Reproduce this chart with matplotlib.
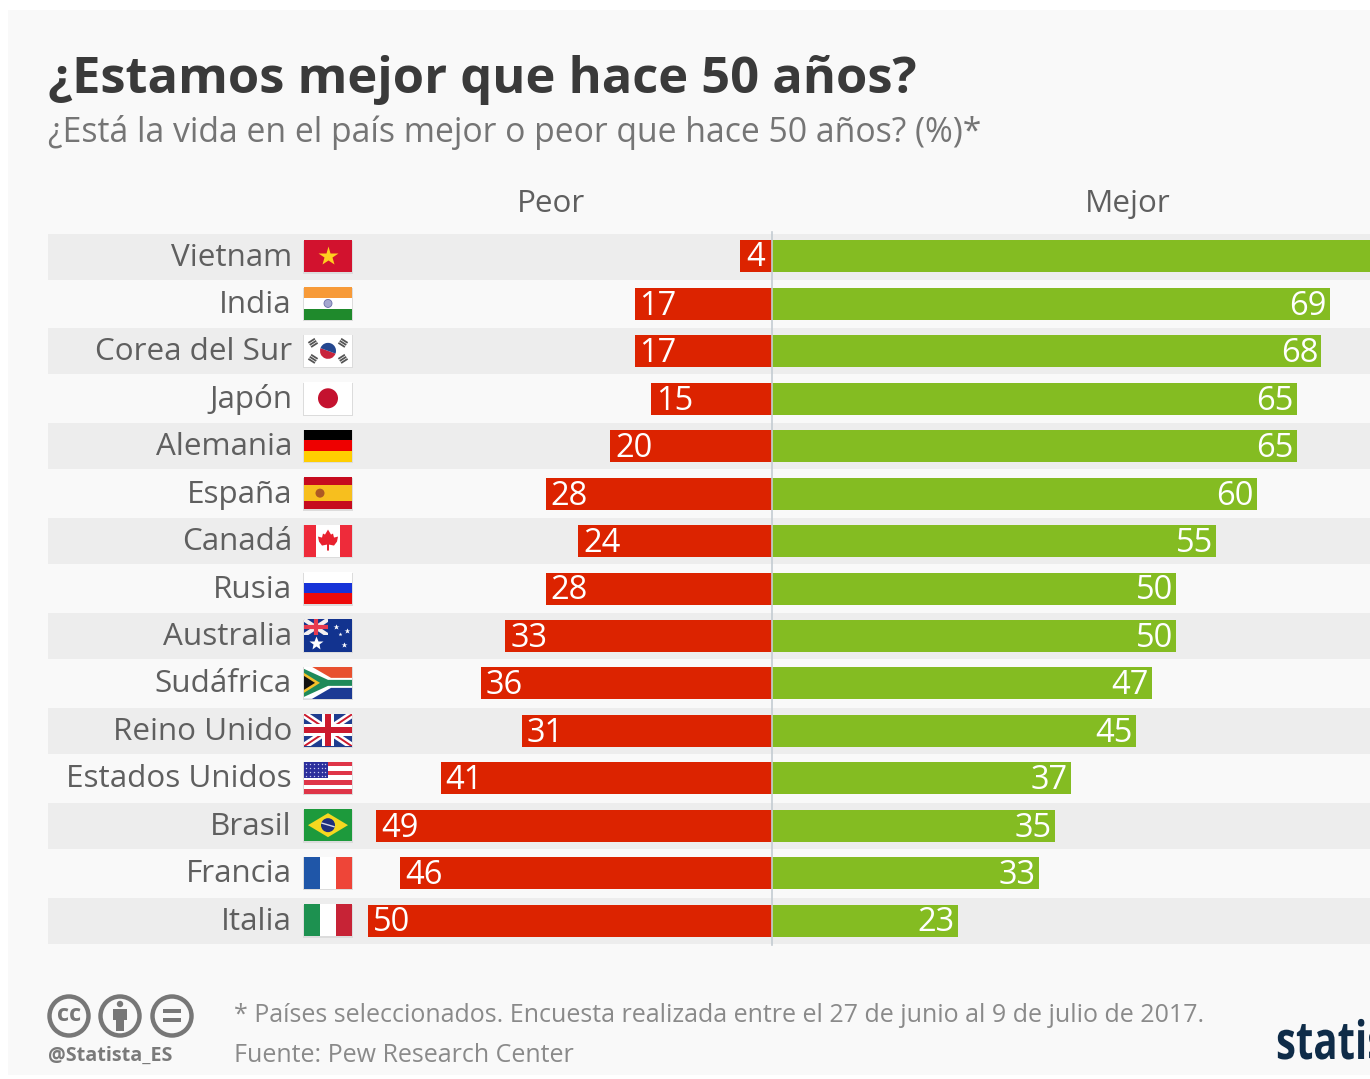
import matplotlib
matplotlib.use("Agg")
import matplotlib.pyplot as plt
from matplotlib.patches import Rectangle, Circle, Polygon, Wedge
from matplotlib.patheffects import AbstractPathEffect
from matplotlib.transforms import Affine2D

W = 1370
H = 1079

countries = ["Vietnam", "India", "Corea del Sur", "Japón", "Alemania", "España", "Canadá", "Rusia",
             "Australia", "Sudáfrica", "Reino Unido", "Estados Unidos", "Brasil", "Francia", "Italia"]
peor = [4, 17, 17, 15, 20, 28, 24, 28, 33, 36, 31, 41, 49, 46, 50]
mejor = [88, 69, 68, 65, 65, 60, 55, 50, 50, 47, 45, 37, 35, 33, 23]

title = "¿Estamos mejor que hace 50 años?"
subtitle = "¿Está la vida en el país mejor o peor que hace 50 años? (%)*"
note = "* Países seleccionados. Encuesta realizada entre el 27 de junio al 9 de julio de 2017."
source = "Fuente: Pew Research Center"

plt.rcParams["font.family"] = ["Open Sans", "DejaVu Sans"]

RED = "#dc2300"
GREEN = "#84bc22"
GREY = "#5f5f5f"
PX_PER_UNIT = 8.08
ZERO_X = 772
ROW_0 = 256.5
ROW_STEP = 47.43
LABEL_SIZE = 22.6
VALUE_SIZE = 23.5


class SqueezeX(AbstractPathEffect):
    # narrows a text horizontally around its left edge, no condensed font around
    def __init__(self, x0, factor):
        self.x0 = x0
        self.factor = factor

    def draw_path(self, renderer, gc, tpath, affine, rgbFace=None):
        squeeze = Affine2D().translate(-self.x0, 0).scale(self.factor, 1).translate(self.x0, 0)
        renderer.draw_path(gc, tpath, affine + squeeze, rgbFace)


fig = plt.figure(figsize=(W / 100, H / 100), dpi=100, facecolor="white")

# pixel layer for panel, stripes, flags and text
px = fig.add_axes([0, 0, 1, 1])
px.set_xlim(0, W)
px.set_ylim(H, 0)
px.axis("off")
px.add_patch(Rectangle((8, 10), W, H - 14, fc="#f9f9f9", ec="none", zorder=0))

for i in range(0, len(countries), 2):
    px.add_patch(Rectangle((48, ROW_0 + i * ROW_STEP - 23), W, 46, fc="#ededed", ec="none", zorder=1))

# bars live on their own axes so the widths come from the value scale
ax = fig.add_axes([0, 0, 1, 1])
ax.patch.set_alpha(0)
ax.axis("off")
ax.set_xlim(-ZERO_X / PX_PER_UNIT, (W - ZERO_X) / PX_PER_UNIT)
ax.set_ylim((H - ROW_0) / ROW_STEP, -ROW_0 / ROW_STEP)

rows = list(range(len(countries)))
ax.barh(rows, [-v for v in peor], height=32 / ROW_STEP, color=RED, linewidth=0, zorder=3)
ax.barh(rows, mejor, height=32 / ROW_STEP, color=GREEN, linewidth=0, zorder=3)
ax.axvline(0, ymin=1 - 945 / H, ymax=1 - 232 / H, color="#c4ccd2", lw=1.2, zorder=4)

for i in rows:
    if peor[i] < 10:
        ax.text(-peor[i] / 2, i + 0.03, str(peor[i]), color="white", fontsize=VALUE_SIZE, ha="center", va="center",
                zorder=5)
    else:
        ax.text(-peor[i] + 0.6, i + 0.05, str(peor[i]), color="white", fontsize=VALUE_SIZE, ha="left", va="center",
                zorder=5)
    ax.text(mejor[i] - 0.4, i + 0.05, str(mejor[i]), color="white", fontsize=VALUE_SIZE, ha="right", va="center",
            zorder=5, clip_on=True)
    px.text(292, ROW_0 + i * ROW_STEP + 1, countries[i], color=GREY, fontsize=LABEL_SIZE, ha="right", va="center",
            zorder=5)


# flag helpers, all in pixel coordinates
def band_h(y, colors):
    h = 32 / len(colors)
    for k, c in enumerate(colors):
        px.add_patch(Rectangle((304, y - 16 + k * h), 48, h + 0.3, fc=c, ec="none", zorder=6))


def band_v(y, colors):
    w = 48 / len(colors)
    for k, c in enumerate(colors):
        px.add_patch(Rectangle((304 + k * w, y - 16), w + 0.3, 32, fc=c, ec="none", zorder=6))


def clip_line(xs, ys, color, lw, clip):
    ln, = px.plot(xs, ys, color=color, lw=lw, zorder=7, solid_capstyle="butt")
    ln.set_clip_path(clip)


def shadow(y):
    px.add_patch(Rectangle((303.5, y - 15.5), 49.5, 33, fc="#dcdcdc", ec="none", zorder=5))


def flag_vietnam(y):
    band_h(y, ["#d2122e"])
    px.plot(328, y, marker="*", ms=15, color="#ffcf1f", mec="none", zorder=7)


def flag_india(y):
    band_h(y, ["#f79a38", "#ffffff", "#1f8a2c"])
    px.add_patch(Circle((328, y), 4, fc="#a5a8cf", ec="#6a6ea8", lw=0.6, zorder=7))


def flag_korea(y):
    band_h(y, ["#ffffff"])
    px.add_patch(Wedge((328, y), 8, 20, 200, fc="#c8243c", ec="none", zorder=7))
    px.add_patch(Wedge((328, y), 8, 200, 380, fc="#24478f", ec="none", zorder=7))
    for dx, dy, ang in [(-15, -8, -1), (15, -8, 1), (-15, 8, 1), (15, 8, -1)]:
        for off in (-2.5, 0, 2.5):
            x0 = 328 + dx + off * 0.55
            y0 = y + dy + off * 0.83 * ang * (-1)
            px.plot([x0 - 2.5, x0 + 2.5], [y0 - 1.6 * ang, y0 + 1.6 * ang], color="#555555", lw=1.3, zorder=7)


def flag_japan(y):
    band_h(y, ["#ffffff"])
    px.add_patch(Circle((328, y), 10, fc="#c4122f", ec="none", zorder=7))


def flag_germany(y):
    band_h(y, ["#000000", "#ee0000", "#ffce00"])


def flag_spain(y):
    for top, h, c in [(-16, 8, "#c60b1e"), (-8, 16, "#f7bf1e"), (8, 8, "#c60b1e")]:
        px.add_patch(Rectangle((304, y + top), 48, h, fc=c, ec="none", zorder=6))
    px.add_patch(Circle((320, y), 4.5, fc="#ad5a24", ec="none", zorder=7))


def flag_canada(y):
    band_h(y, ["#ffffff"])
    px.add_patch(Rectangle((304, y - 16), 12, 32, fc="#ee2b3a", ec="none", zorder=6))
    px.add_patch(Rectangle((340, y - 16), 12, 32, fc="#ee2b3a", ec="none", zorder=6))
    leaf_dx = [0, 3, 5, 6, 10, 9, 6, 1, 1, -1, -1, -6, -9, -10, -6, -5, -3]
    leaf_dy = [-11, -6, -7, -3, -4, 1, 5, 4, 10, 10, 4, 5, 1, -4, -3, -7, -6]
    px.add_patch(Polygon([(328 + a, y + b) for a, b in zip(leaf_dx, leaf_dy)], fc="#e8212e", ec="none", zorder=7))


def flag_russia(y):
    band_h(y, ["#ffffff", "#1733d8", "#ee0a0a"])


def flag_australia(y):
    band_h(y, ["#12338f"])
    clip = Rectangle((304, y - 16), 24, 16, transform=px.transData)
    clip_line([304, 328], [y - 16, y], "#f4f0f0", 3, clip)
    clip_line([304, 328], [y, y - 16], "#f4f0f0", 3, clip)
    clip_line([316, 316], [y - 16, y], "#e63a4e", 3, clip)
    clip_line([304, 328], [y - 8, y - 8], "#e63a4e", 3, clip)
    star_x = [316, 336, 340, 347, 344]
    star_y = [y + 8, y - 8, y - 1, y - 4, y + 10]
    star_s = [10, 4, 3, 4, 4]
    for sx, sy, s in zip(star_x, star_y, star_s):
        px.plot(sx, sy, marker="*", ms=s, color="white", mec="none", zorder=7)


def flag_south_africa(y):
    px.add_patch(Rectangle((304, y - 16), 48, 16, fc="#e8502f", ec="none", zorder=6))
    px.add_patch(Rectangle((304, y), 48, 16, fc="#1c3a94", ec="none", zorder=6))
    px.add_patch(Polygon([(304, y - 16), (312, y - 16), (331, y - 5), (352, y - 5), (352, y + 5), (331, y + 5),
                          (312, y + 16), (304, y + 16)], fc="white", ec="none", zorder=6))
    px.add_patch(Polygon([(304, y - 14), (328, y - 3), (352, y - 3), (352, y + 3), (328, y + 3), (304, y + 14)],
                         fc="#1f8a5a", ec="none", zorder=7))
    px.add_patch(Polygon([(304, y - 10), (320, y), (304, y + 10)], fc="#f3bf2a", ec="none", zorder=7))
    px.add_patch(Polygon([(304, y - 7), (315, y), (304, y + 7)], fc="#111111", ec="none", zorder=8))


def flag_uk(y):
    band_h(y, ["#1f3d8f"])
    clip = Rectangle((304, y - 16), 48, 32, transform=px.transData)
    for ys in ([y - 16, y + 16], [y + 16, y - 16]):
        clip_line([304, 352], ys, "white", 5, clip)
        clip_line([304, 352], ys, "#cc1a2e", 1.4, clip)
    px.add_patch(Rectangle((322, y - 16), 12, 32, fc="white", ec="none", zorder=8))
    px.add_patch(Rectangle((304, y - 6), 48, 12, fc="white", ec="none", zorder=8))
    px.add_patch(Rectangle((325, y - 16), 6, 32, fc="#cc1a2e", ec="none", zorder=9))
    px.add_patch(Rectangle((304, y - 3), 48, 6, fc="#cc1a2e", ec="none", zorder=9))


def flag_usa(y):
    band_h(y, ["#df3548", "#ffffff"] * 3 + ["#df3548"])
    px.add_patch(Rectangle((304, y - 16), 24, 16, fc="#2c2f9c", ec="none", zorder=7))
    for r in range(4):
        for c in range(6):
            px.plot(306.5 + c * 3.8, y - 13.5 + r * 3.8, marker=".", ms=2, color="#c9cbf0", mec="none", zorder=8)


def flag_brazil(y):
    band_h(y, ["#1d9a3c"])
    px.add_patch(Polygon([(308, y), (328, y - 12), (348, y), (328, y + 12)], fc="#f5d820", ec="none", zorder=7))
    px.add_patch(Circle((328, y), 7, fc="#1f2f7c", ec="none", zorder=8))
    px.plot([322, 334], [y - 2, y + 1.5], color="#d8d8e8", lw=1, zorder=9)


def flag_france(y):
    band_v(y, ["#1f56a8", "#ffffff", "#ee4538"])


def flag_italy(y):
    band_v(y, ["#1d9150", "#ffffff", "#c72336"])


flags = [flag_vietnam, flag_india, flag_korea, flag_japan, flag_germany, flag_spain, flag_canada, flag_russia,
         flag_australia, flag_south_africa, flag_uk, flag_usa, flag_brazil, flag_france, flag_italy]
for i, draw_flag in enumerate(flags):
    yc = ROW_0 + i * ROW_STEP - 0.5
    shadow(yc)
    draw_flag(yc)

# heading block
px.text(48, 80, title, color="#3a3a3a", fontsize=36.45, fontweight="bold", ha="left", va="center", zorder=5)
px.text(48, 133, subtitle, color="#757575", fontsize=24.3, ha="left", va="center", zorder=5)
px.text(551, 204, "Peor", color=GREY, fontsize=LABEL_SIZE, ha="center", va="center", zorder=5)
px.text(1128, 204, "Mejor", color=GREY, fontsize=LABEL_SIZE, ha="center", va="center", zorder=5)

# footer text
px.text(234, 1015, note, color="#8a8a8a", fontsize=18, ha="left", va="center", zorder=5)
px.text(234, 1055, source, color="#8a8a8a", fontsize=18, ha="left", va="center", zorder=5)
px.text(48, 1056, "@Statista_ES", color="#7a7a7a", fontsize=14.2, fontweight="bold", ha="left", va="center", zorder=5)

# licence badges
ICON = "#777777"
for cx in (69, 120, 172):
    px.add_patch(Circle((cx, 1016), 19.5, fc="none", ec=ICON, lw=3.2, zorder=5))
px.text(69, 1015, "cc", color=ICON, fontsize=17, fontweight="bold", ha="center", va="center", zorder=5)
px.add_patch(Circle((120, 1004), 3.2, fc=ICON, ec="none", zorder=5))
px.add_patch(Rectangle((113, 1009), 14, 11, fc=ICON, ec="none", zorder=5))
px.add_patch(Rectangle((116, 1019), 8, 12, fc=ICON, ec="none", zorder=5))
px.add_patch(Rectangle((163, 1009), 18, 4, fc=ICON, ec="none", zorder=5))
px.add_patch(Rectangle((163, 1018), 18, 4, fc=ICON, ec="none", zorder=5))

# brand mark runs off the right edge
px.text(1276, 1045, "statista", color="#0f2c48", fontsize=38, fontweight="bold", ha="left", va="center", zorder=5,
        path_effects=[SqueezeX(1276, 0.76)])

fig.savefig("out.png", dpi=100, facecolor="white")
